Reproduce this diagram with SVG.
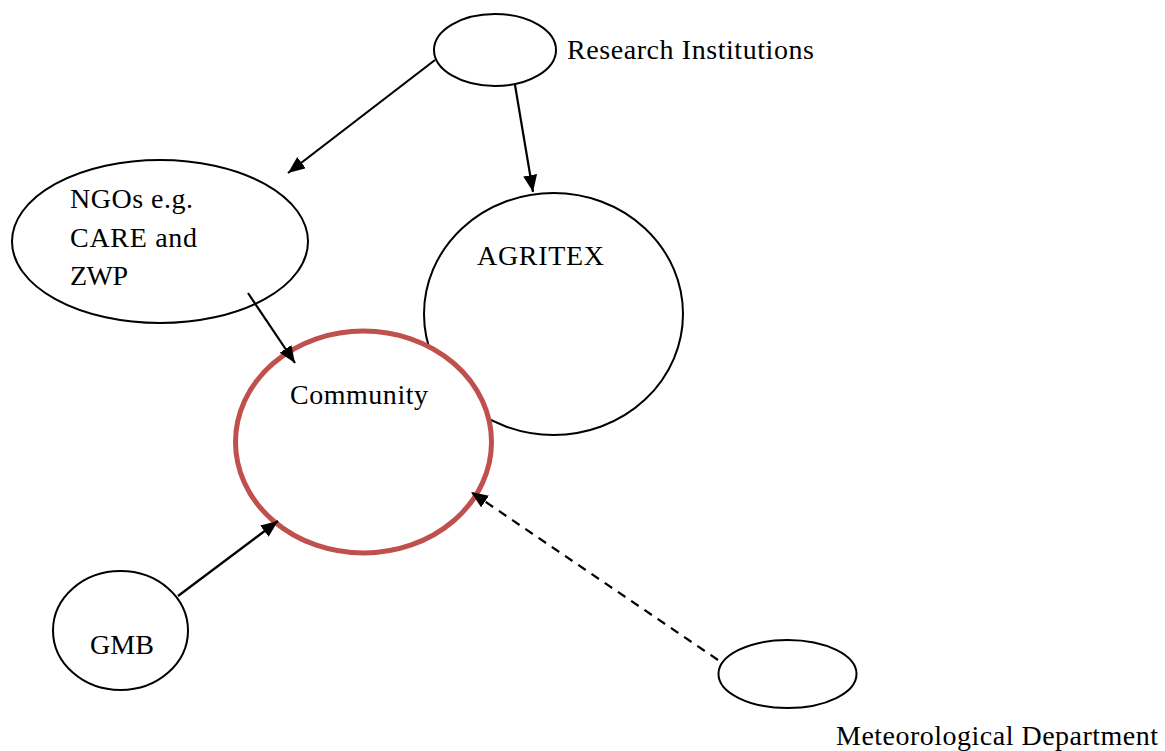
<svg xmlns="http://www.w3.org/2000/svg" width="1165" height="751" viewBox="0 0 1165 751">
<style>
.n{fill:#fff;stroke:#000;stroke-width:2}
.c{fill:#fff;stroke:#c0504d;stroke-width:5}
.t{font-family:"Liberation Serif","Times New Roman",serif;font-size:28px;fill:#000}
.e{stroke:#000;stroke-width:2.2;fill:none}
.d{stroke-dasharray:9,7}
</style>
<defs>
<marker id="ah" markerUnits="userSpaceOnUse" markerWidth="20" markerHeight="16" refX="17" refY="7" orient="auto">
<path d="M0,0 L17,7 L0,14 Z" fill="#000"/>
</marker>
</defs>
<rect width="1165" height="751" fill="#fff"/>
<g id="research"><ellipse class="n" cx="495" cy="50" rx="61" ry="36"/><text class="t" x="567" y="59" textLength="247" lengthAdjust="spacing">Research Institutions</text></g>
<g id="ngos"><ellipse class="n" cx="160" cy="241.5" rx="148" ry="81.5"/><text class="t" x="70" y="208" textLength="123" lengthAdjust="spacing">NGOs e.g.</text><text class="t" x="70" y="247" textLength="127" lengthAdjust="spacing">CARE and</text><text class="t" x="70" y="285" textLength="58" lengthAdjust="spacing">ZWP</text></g>
<g id="agritex"><ellipse class="n" cx="553.5" cy="314" rx="129.5" ry="121"/><text class="t" x="477" y="265" textLength="127" lengthAdjust="spacing">AGRITEX</text></g>
<g id="community"><ellipse class="c" cx="363.5" cy="442" rx="128" ry="111"/><text class="t" x="290" y="404" textLength="138" lengthAdjust="spacing">Community</text></g>
<g id="gmb"><ellipse class="n" cx="120.5" cy="630.5" rx="67.5" ry="59.5"/><text class="t" x="90" y="654" textLength="64" lengthAdjust="spacing">GMB</text></g>
<g id="met"><ellipse class="n" cx="787.5" cy="674" rx="69" ry="34"/><text class="t" x="836" y="745" textLength="322" lengthAdjust="spacing">Meteorological Department</text></g>
<g id="connectors">
<line class="e" x1="435" y1="60" x2="288" y2="173" marker-end="url(#ah)"/>
<line class="e" x1="515" y1="85" x2="533" y2="192" marker-end="url(#ah)"/>
<line class="e" x1="248" y1="293" x2="295" y2="363" marker-end="url(#ah)"/>
<line class="e" x1="178" y1="596" x2="278" y2="521" marker-end="url(#ah)"/>
<line class="e d" x1="718" y1="660" x2="471" y2="492" marker-end="url(#ah)"/>
</g>
</svg>
